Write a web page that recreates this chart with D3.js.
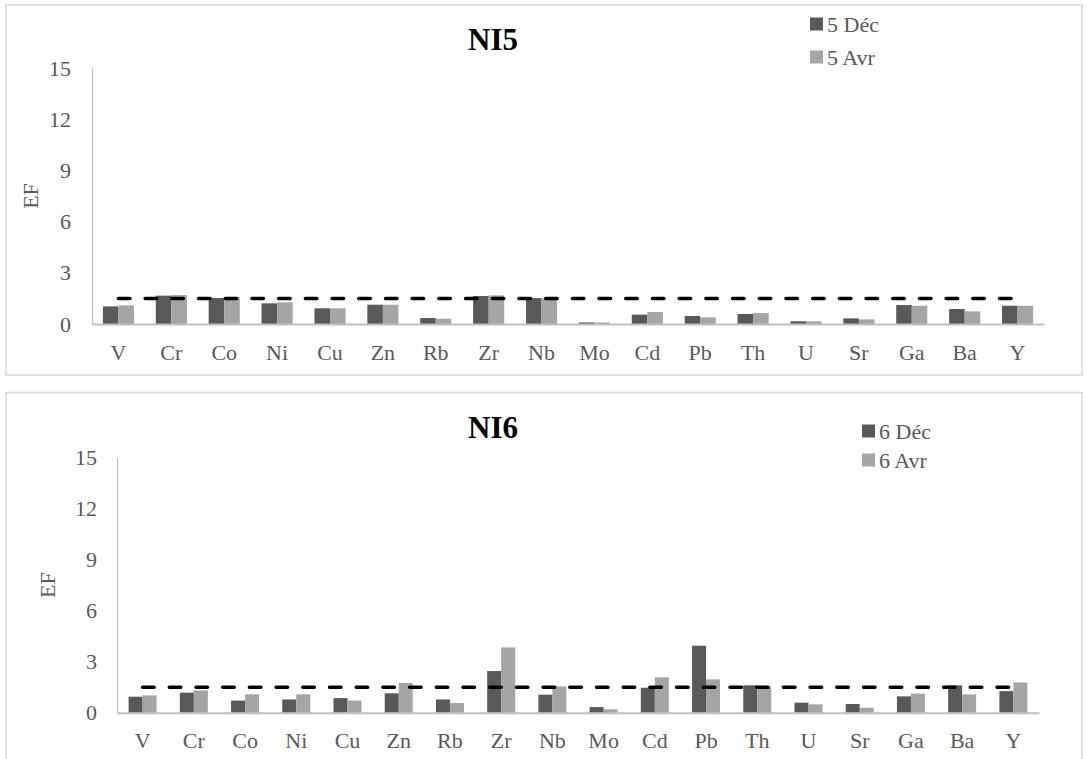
<!DOCTYPE html>
<html>
<head>
<meta charset="utf-8">
<script src="https://cdn.jsdelivr.net/npm/d3@7"></script>
<style>
  html, body { margin: 0; padding: 0; background: #fff; }
  svg { display: block; }
  svg text { font-family: "Liberation Serif", "Times New Roman", serif; }
</style>
</head>
<body>
<svg id="chart" width="1087" height="759"></svg>
<script>
// ---- data ----
const elements = ["V","Cr","Co","Ni","Cu","Zn","Rb","Zr","Nb","Mo","Cd","Pb","Th","U","Sr","Ga","Ba","Y"];
const yTicks = [0, 3, 6, 9, 12, 15];
const threshold = 1.5;

const ni5Titles = ["5 Déc", "5 Avr"];
const ni5Dec = [1.03,1.66,1.52,1.21,0.92,1.13,0.35,1.64,1.52,0.09,0.55,0.47,0.59,0.16,0.33,1.11,0.88,1.07];
const ni5Avr = [1.09,1.70,1.56,1.27,0.92,1.13,0.31,1.68,1.50,0.09,0.70,0.39,0.64,0.16,0.27,1.07,0.74,1.07];

const ni6Titles = ["6 Déc", "6 Avr"];
const ni6Dec = [0.94,1.18,0.71,0.78,0.86,1.14,0.78,2.45,1.06,0.33,1.47,3.94,1.61,0.59,0.51,0.96,1.61,1.27];
const ni6Avr = [1.02,1.31,1.08,1.08,0.71,1.75,0.57,3.84,1.55,0.20,2.08,1.96,1.49,0.49,0.29,1.12,1.08,1.78];

const colors = ["#595959", "#a5a5a5"];
const textColor = "#595959";
const FONT = '"Liberation Serif", "Times New Roman", serif';

const svg = d3.select("#chart");

function panel(cfg) {
  const g = svg.append("g");
  // frame
  g.append("rect").attr("x", cfg.frame[0]).attr("y", cfg.frame[1])
    .attr("width", cfg.frame[2]).attr("height", cfg.frame[3])
    .attr("fill", "none").attr("stroke", "#d9d9d9").attr("stroke-width", 1.5);

  const x0 = d3.scaleBand().domain(elements).range([cfg.left, cfg.right]).padding(0);
  const x1 = d3.scaleBand().domain([0, 1]).range([0, x0.bandwidth()]).paddingInner(0).paddingOuter(cfg.po);
  const y = d3.scaleLinear().domain([0, 15]).range([cfg.bottom, cfg.top]);

  // bars
  const series = [cfg.dec, cfg.avr];
  series.forEach((vals, si) => {
    g.append("g").selectAll("rect").data(elements).join("rect")
      .attr("x", (d) => x0(d) + x1(si))
      .attr("y", (d, i) => y(vals[i]))
      .attr("width", x1.bandwidth())
      .attr("height", (d, i) => y(0) - y(vals[i]))
      .attr("fill", colors[si]);
  });

  // y axis
  const ya = g.append("g").attr("transform", `translate(${cfg.left},0)`)
    .call(d3.axisLeft(y).tickValues(yTicks).tickSize(0).tickPadding(cfg.yPad).tickSizeOuter(0));
  ya.attr("font-family", FONT);
  ya.select(".domain").attr("stroke", "#bfbfbf").attr("stroke-width", 1.2);
  ya.selectAll("text").attr("font-size", 22).attr("fill", textColor).attr("font-family", FONT);

  // x axis
  const xa = g.append("g").attr("transform", `translate(0,${cfg.bottom})`)
    .call(d3.axisBottom(x0).tickSize(0).tickPadding(20).tickSizeOuter(0));
  xa.attr("font-family", FONT);
  xa.select(".domain").attr("stroke", "#bfbfbf").attr("stroke-width", 2);
  xa.selectAll("text").attr("font-size", 22).attr("fill", textColor).attr("font-family", FONT);

  // threshold dashed line
  const cx = (d) => x0(d) + x0.bandwidth() / 2;
  g.append("line")
    .attr("x1", cx(elements[0])).attr("x2", cx(elements[elements.length - 1]))
    .attr("y1", y(threshold)).attr("y2", y(threshold))
    .attr("stroke", "#000").attr("stroke-width", 3.5)
    .attr("stroke-linecap", "round").attr("stroke-dasharray", "11.5 15.2");

  // title
  g.append("text").attr("x", 493).attr("y", cfg.titleY).attr("text-anchor", "middle")
    .attr("font-family", FONT)
    .attr("font-size", 31).attr("font-weight", "bold").attr("fill", "#000").text(cfg.title);

  // y label
  g.append("text").attr("transform", `translate(${cfg.efX},${(cfg.top + cfg.bottom) / 2}) rotate(-90)`)
    .attr("text-anchor", "middle").attr("dy", "0.35em").attr("font-family", FONT)
    .attr("font-size", 22).attr("fill", textColor).text("EF");

  // legend
  cfg.titles.forEach((t, i) => {
    const ly = cfg.legY + i * cfg.legGap;
    g.append("rect").attr("x", cfg.legX).attr("y", ly - 6.5).attr("width", 13).attr("height", 13)
      .attr("fill", colors[i]);
    g.append("text").attr("x", cfg.legX + 17).attr("y", ly).attr("dy", "0.35em")
      .attr("font-family", FONT)
      .attr("font-size", 22).attr("fill", textColor).text(t);
  });
}

panel({
  frame: [6, 5, 1076, 370],
  left: 92, right: 1044, top: 68, bottom: 324, po: 0.7, yPad: 21,
  dec: ni5Dec, avr: ni5Avr, titles: ni5Titles, title: "NI5", titleY: 50,
  efX: 30, legX: 810, legY: 24, legGap: 33
});
panel({
  frame: [6, 392.5, 1076, 380],
  left: 117, right: 1039, top: 457.7, bottom: 712.7, po: 0.83, yPad: 20,
  dec: ni6Dec, avr: ni6Avr, titles: ni6Titles, title: "NI6", titleY: 438,
  efX: 47, legX: 862, legY: 431, legGap: 29
});
</script>
</body>
</html>
